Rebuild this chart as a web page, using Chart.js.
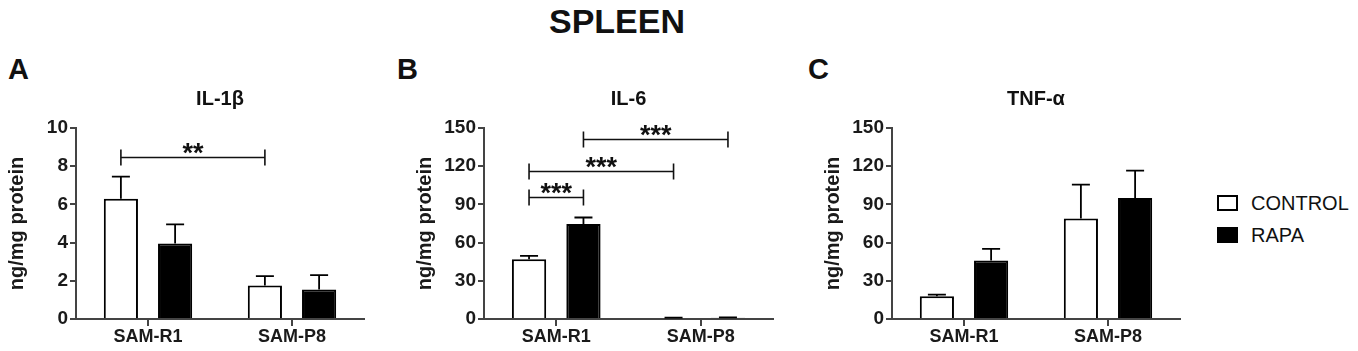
<!DOCTYPE html>
<html>
<head>
<meta charset="utf-8">
<script src="https://cdn.jsdelivr.net/npm/chart.js@4.4.1/dist/chart.umd.min.js"></script>
<style>
  body { margin: 0; background: #fff; font-family: 'Liberation Sans', Arial, sans-serif; }
  #page { position: relative; width: 1358px; height: 351px; overflow: hidden; }
  canvas { position: absolute; top: 0; }
  .title { position: absolute; left: 0; top: 4px; width: 1234px; text-align: center; font-size: 34px; font-weight: bold; line-height: 34px; color: #111; }
  .letter { position: absolute; top: 55px; font-size: 29px; font-weight: bold; line-height: 29px; color: #111; }
  .leg { position: absolute; left: 1217px; display: flex; align-items: center; font-size: 20px; line-height: 20px; color: #111; }
  .sw { width: 17px; height: 12px; border: 2px solid #000; margin-right: 13px; }
</style>
</head>
<body>
<div id="page">
  <div class="title">SPLEEN</div>
  <div class="letter" style="left:8px">A</div>
  <div class="letter" style="left:397px">B</div>
  <div class="letter" style="left:808px">C</div>
  <canvas id="a" width="390" height="351" style="left:0px"></canvas>
  <canvas id="b" width="410" height="351" style="left:390px"></canvas>
  <canvas id="c" width="400" height="351" style="left:800px"></canvas>
  <div class="leg" style="top:193px"><div class="sw" style="background:#fff"></div>CONTROL</div>
  <div class="leg" style="top:225px"><div class="sw" style="background:#000"></div>RAPA</div>
</div>
<script>
// data
const groups = ['SAM-R1', 'SAM-P8'];
const seriesNames = ['CONTROL', 'RAPA'];

const il1bControl = [6.3, 1.75];
const il1bControlErr = [1.15, 0.5];
const il1bRapa = [3.95, 1.55];
const il1bRapaErr = [1.0, 0.75];
// [group, series] -> [group, series], height, stars
const il1bBrackets = [[0, 0, 1, 0, 8.5, '**']];

const il6Control = [47, 0.8];
const il6ControlErr = [2.6, 0.3];
const il6Rapa = [74.7, 0.9];
const il6RapaErr = [5.0, 0.3];
const il6Brackets = [
  [0, 0, 0, 1, 95.5, '***'],
  [0, 0, 1, 0, 116.5, '***'],
  [0, 1, 1, 1, 141.5, '***']
];

const tnfControl = [17.8, 79];
const tnfControlErr = [1.4, 26.5];
const tnfRapa = [46, 95];
const tnfRapaErr = [9, 21.5];
const tnfBrackets = [];

const FONT = "'Liberation Sans', Arial, sans-serif";

const errorBars = {
  id: 'errorBars',
  afterDatasetsDraw(chart) {
    const ctx = chart.ctx;
    const y = chart.scales.y;
    chart.data.datasets.forEach((ds, di) => {
      chart.getDatasetMeta(di).data.forEach((bar, i) => {
        const top = y.getPixelForValue(ds.data[i] + ds.errors[i]);
        ctx.save();
        ctx.strokeStyle = '#000';
        ctx.lineWidth = 1.8;
        ctx.beginPath();
        ctx.moveTo(bar.x, bar.y);
        ctx.lineTo(bar.x, top);
        ctx.moveTo(bar.x - 9, top);
        ctx.lineTo(bar.x + 9, top);
        ctx.stroke();
        ctx.restore();
      });
    });
  }
};

function bracketPlugin(list) {
  return {
    id: 'brackets',
    afterDatasetsDraw(chart) {
      const ctx = chart.ctx;
      const y = chart.scales.y;
      list.forEach(b => {
        const x1 = chart.getDatasetMeta(b[1]).data[b[0]].x;
        const x2 = chart.getDatasetMeta(b[3]).data[b[2]].x;
        const py = Math.round(y.getPixelForValue(b[4])) + 0.5;
        ctx.save();
        ctx.strokeStyle = '#111';
        ctx.lineWidth = 1.6;
        ctx.beginPath();
        ctx.moveTo(x1, py); ctx.lineTo(x2, py);
        ctx.moveTo(x1, py - 8); ctx.lineTo(x1, py + 8);
        ctx.moveTo(x2, py - 8); ctx.lineTo(x2, py + 8);
        ctx.stroke();
        ctx.fillStyle = '#111';
        ctx.font = 'bold 27px ' + FONT;
        ctx.textAlign = 'center';
        ctx.textBaseline = 'alphabetic';
        ctx.fillText(b[5], (x1 + x2) / 2, py + 4);
        ctx.restore();
      });
    }
  };
}

function headingPlugin(text) {
  return {
    id: 'heading',
    afterDraw(chart) {
      const ctx = chart.ctx;
      const a = chart.chartArea;
      ctx.save();
      ctx.fillStyle = '#111';
      ctx.font = 'bold 20px ' + FONT;
      ctx.textAlign = 'center';
      ctx.textBaseline = 'alphabetic';
      ctx.fillText(text, (a.left + a.right) / 2, 105);
      ctx.restore();
    }
  };
}

function makePanel(id, heading, control, controlErr, rapa, rapaErr, brackets, yMax, yStep, padLeft, padRight) {
  return new Chart(document.getElementById(id), {
    type: 'bar',
    data: {
      labels: groups,
      datasets: [{
        label: seriesNames[0],
        data: control,
        errors: controlErr,
        backgroundColor: '#fff',
        borderColor: '#000',
        borderWidth: 2,
        barPercentage: 0.63,
        categoryPercentage: 0.753
      }, {
        label: seriesNames[1],
        data: rapa,
        errors: rapaErr,
        backgroundColor: '#000',
        borderColor: '#000',
        borderWidth: 2,
        barPercentage: 0.63,
        categoryPercentage: 0.753
      }]
    },
    options: {
      responsive: false,
      animation: false,
      devicePixelRatio: 1,
      layout: { padding: { top: 128, bottom: 0, left: padLeft, right: padRight } },
      plugins: { legend: { display: false }, tooltip: { enabled: false } },
      scales: {
        x: {
          afterFit(s) { s.height = 32; },
          grid: { drawOnChartArea: false, offset: false, tickLength: 7, color: '#444', lineWidth: 2 },
          border: { display: true, color: '#444', width: 2 },
          ticks: { color: '#1a1a1a', padding: 0, font: { family: FONT, size: 18, weight: 'bold' } }
        },
        y: {
          min: 0,
          max: yMax,
          afterFit(s) { s.width = 76; },
          grid: { drawOnChartArea: false, tickLength: 6, color: '#444', lineWidth: 2 },
          border: { display: true, color: '#444', width: 2 },
          ticks: { stepSize: yStep, color: '#1a1a1a', padding: 2, font: { family: FONT, size: 19, weight: 'bold' } },
          title: {
            display: true,
            text: 'ng/mg protein',
            color: '#1a1a1a',
            padding: { top: 5, bottom: 0 },
            font: { family: FONT, size: 20, weight: 'bold' }
          }
        }
      }
    },
    plugins: [errorBars, bracketPlugin(brackets), headingPlugin(heading)]
  });
}

makePanel('a', 'IL-1β', il1bControl, il1bControlErr, il1bRapa, il1bRapaErr, il1bBrackets, 10, 2, 0, 26);
makePanel('b', 'IL-6', il6Control, il6ControlErr, il6Rapa, il6RapaErr, il6Brackets, 150, 30, 18, 27);
makePanel('c', 'TNF-α', tnfControl, tnfControlErr, tnfRapa, tnfRapaErr, tnfBrackets, 150, 30, 16, 20);
</script>
</body>
</html>
